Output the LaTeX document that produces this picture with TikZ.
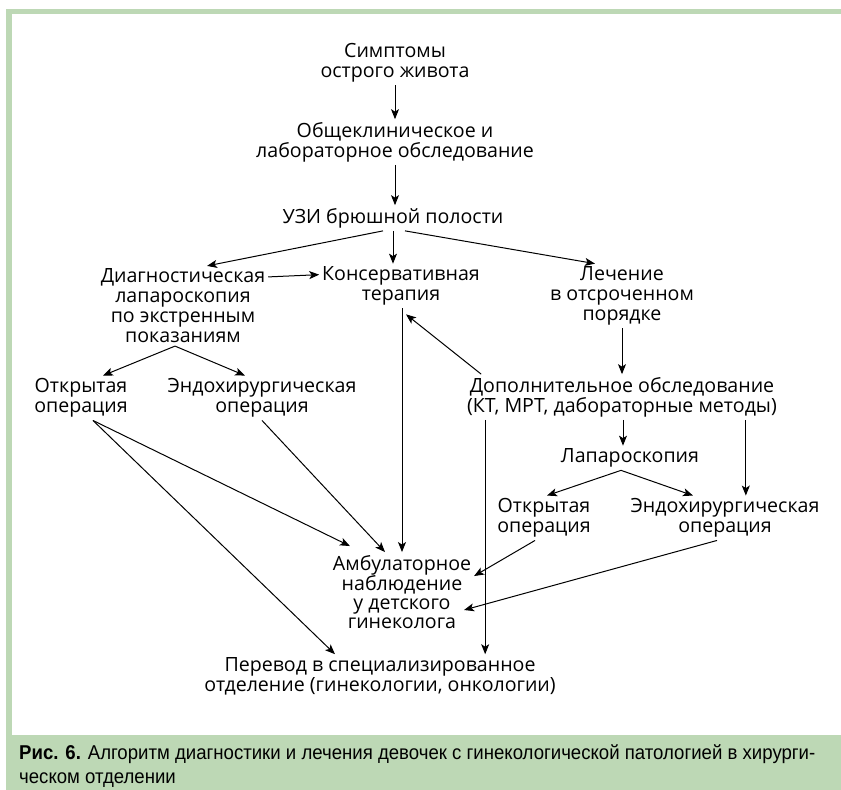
\documentclass[tikz,border=0pt]{standalone}
\usepackage{fontspec}
\setmainfont{Open Sans}
\newfontfamily\capfont[FakeStretch=0.93]{Liberation Sans}
\definecolor{FrameGreen}{RGB}{189,216,181}
\usetikzlibrary{arrows.meta,calc}

\begin{document}
\begin{tikzpicture}[x=1pt,y=-1pt,
    box/.style={align=center,inner sep=0pt,outer sep=3pt,font=\fontsize{19.6}{20}\selectfont},
    arr/.style={line width=1pt,-{Stealth[length=10pt,width=8pt,inset=2.5pt]}}]
    \useasboundingbox (0,0) rectangle (841,790);
    % frame and caption
    \fill[FrameGreen] (6,9) rectangle (841,14);
    \fill[FrameGreen] (6,9) rectangle (12,735);
    \fill[FrameGreen] (6,735) rectangle (841,790);
    \node[anchor=base west,inner sep=0pt,font=\capfont\fontsize{20}{24}\selectfont,align=left] (cap) at (19,783)
        {\textbf{Рис. 6.} Алгоритм диагностики и лечения девочек с гинекологической патологией в хирурги-\\ческом отделении};
    % nodes
    \node[box] (sym) at (395,63) {Симптомы\\острого живота};
    \node[box] (obs) at (395,142) {Общеклиническое и\\лабораторное обследование};
    \node[box] (uzi) at (393,218) {УЗИ брюшной полости};
    \node[box] (diag) at (183,306) {Диагностическая\\лапароскопия\\по экстренным\\показаниям};
    \node[box] (kons) at (401,286) {Консервативная\\терапия};
    \node[box] (lech) at (622,296) {Лечение\\в отсроченном\\порядке};
    \node[box] (open1) at (81,398) {Открытая\\операция};
    \node[box] (endo1) at (262,398) {Эндохирургическая\\операция};
    \node[box] (dop) at (622,397) {Дополнительное обследование\\(КТ, МРТ, дабораторные методы)};
    \node[box] (lap) at (630,458) {Лапароскопия};
    \node[box] (open2) at (544,518) {Открытая\\операция};
    \node[box] (endo2) at (725,518) {Эндохирургическая\\операция};
    \node[box,font=\fontsize{19.6}{19}\selectfont] (amb) at (402,592) {Амбулаторное\\наблюдение\\у детского\\гинеколога};
    \node[box] (perev) at (380,676) {Перевод в специализированное\\отделение (гинекологии, онкологии)};
    % connectors
    \draw[arr] (sym) -- (obs);
    \draw[arr] (obs.south) -- (obs.south |- uzi.north);
    \draw[arr] ([xshift=-10pt]uzi.south) -- ([xshift=24pt]diag.north);
    \draw[arr] (uzi.south) -- (uzi.south |- kons.north);
    \draw[arr] ([xshift=12pt]uzi.south) -- ([xshift=-27pt]lech.north);
    \draw[arr] ($(diag.north east)+(0,11)$) -- ($(kons.north west)+(0,11)$);
    \draw[arr] ([xshift=-8pt]diag.south) -- ([xshift=22pt]open1.north);
    \draw[arr] ([xshift=-8pt]diag.south) -- ([xshift=-17pt]endo1.north);
    \draw[arr] ([xshift=12pt]open1.south) -- ($(amb.north west)+(20,-6)$);
    \draw[arr] ([xshift=12pt]open1.south) -- ([xshift=-45pt]perev.north);
    \draw[arr] (endo1.south) -- ([xshift=-17pt]amb.north);
    \draw[arr] ([xshift=1pt]kons.south) -- ([xshift=1pt]kons.south |- amb.north);
    \draw[arr] ($(dop.north west)+(17,0)$) -- ($(kons.south)+(5,6)$);
    \draw[arr] (lech.south) -- (lech.south |- dop.north);
    \draw[arr] ([xshift=21pt]dop.south west) -- ([xshift=21pt]dop.south west |- perev.north);
    \draw[arr] ([xshift=1pt]dop.south) -- ([xshift=1pt]dop.south |- lap.north);
    \draw[arr] ([xshift=-34pt]dop.south east) -- ([xshift=-34pt]dop.south east |- endo2.north);
    \draw[arr] ([xshift=-9pt]lap.south) -- ([xshift=3pt]open2.north);
    \draw[arr] ([xshift=-9pt]lap.south) -- ([xshift=-32pt]endo2.north);
    \draw[arr] ([xshift=-9pt]open2.south) -- ($(amb.north east)+(0,24)$);
    \draw[arr] ([xshift=-8pt]endo2.south) -- ($(amb.east)+(-10,18)$);
\end{tikzpicture}
\end{document}
